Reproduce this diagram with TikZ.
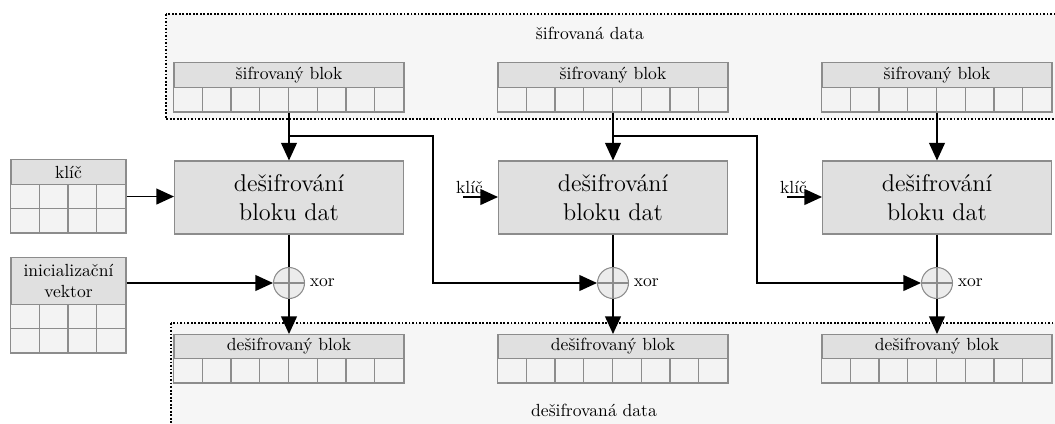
\documentclass[tikz,border=0pt]{standalone}
\usepackage{fontspec}
\usepackage{xcolor}
\usepackage{tikz}
\usetikzlibrary{arrows.meta, positioning, calc}
\definecolor{BlokHead}{RGB}{224, 224, 224}
\definecolor{BlokCell}{RGB}{243, 243, 243}
\definecolor{BlokLine}{RGB}{140, 140, 140}
\definecolor{AreaFill}{RGB}{246, 246, 246}

\tikzset{
  px/.style={x=0.02cm, y=-0.02cm},
  wire/.style={line width=0.8pt, black},
  arrow/.style={wire, -{Triangle[length=10pt, width=9pt]}},
  area/.style={draw=black, line width=0.6pt, dash pattern=on 1pt off 1pt, fill=AreaFill},
  headbox/.style={draw=BlokLine, fill=BlokHead, line width=0.6pt, inner sep=0pt, align=center},
  cellbox/.style={draw=BlokLine, fill=BlokCell, line width=0.6pt},
  decbox/.style={draw=BlokLine, fill=BlokHead, line width=0.6pt, minimum width=4.58cm,
                 minimum height=1.46cm, align=center, font=\fontsize{13.8}{16.5}\selectfont},
  xorsum/.style={circle, draw=BlokLine, fill=BlokCell!97!black, minimum size=0.62cm,
                 inner sep=0pt, line width=0.6pt},
  lbl/.style={inner sep=1pt},
}

% blok s hlavickou a radky bunek: jmeno, x stredu, horni y, sirka, vyska hlavicky, sloupce, radky, text
\newcommand{\blok}[8]{%
  \pgfmathsetmacro{\blokh}{#5+#7*24.5}
  \node[cellbox, inner sep=0pt, minimum width={#4*0.02cm}, minimum height={\blokh*0.02cm},
        anchor=north] (#1) at (#2,#3) {};
  \foreach \r in {1,...,#7}{
    \foreach \c in {1,...,#6}{
      \draw[cellbox] ($(#1.north west)+({(\c-1)*#4/#6},{#5+(\r-1)*24.5})$) rectangle ++({#4/#6},24.5);
    }
  }
  \node[headbox, minimum width={#4*0.02cm}, minimum height={#5*0.02cm}, anchor=north]
        (#1-h) at (#1.north) {#8};
}

\begin{document}
\begin{tikzpicture}[px]
  \useasboundingbox (0,0) rectangle (1055,423);

  % oblasti dat
  \path[area] (166,14) rectangle (1075,119);
  \path[area] (171,323) rectangle (1075,440);
  \node[lbl] (sifdata) at (590,33) {šifrovaná data};
  \node[lbl] (desifdata) at (594,410) {dešifrovaná data};

  % klic a inicializacni vektor
  \blok{klic}{68.5}{159}{115}{25}{4}{2}{klíč}
  \blok{iv}{68.5}{257}{115}{47}{4}{2}{inicializační\\vektor}

  \foreach \i/\cx in {1/289, 2/613, 3/937}{
    \blok{sif\i}{\cx}{62}{230}{25}{8}{1}{šifrovaný blok}
    \blok{desif\i}{\cx}{334}{230}{24}{8}{1}{dešifrovaný blok}
    \node[decbox] (dbox\i) at (\cx,197.5) {dešifrování\\bloku dat};
    \node[xorsum] (xor\i) at (\cx,283) {};
    \draw[BlokLine, line width=0.6pt] (xor\i.north) -- (xor\i.south) (xor\i.west) -- (xor\i.east);
    \node[lbl, right=1.5pt of xor\i] (xorlbl\i) {xor};
    \draw[arrow] (sif\i.south) -- (dbox\i.north);
    \draw[wire] (dbox\i.south) -- (xor\i.north);
    \draw[arrow] (xor\i.south) -- (desif\i.north);
  }

  % vstupy prvniho sloupce
  \draw[arrow] (klic.east) -- (klic.east -| dbox1.west);
  \draw[arrow] (iv.east |- xor1.west) -- (xor1.west);

  % klic do dalsich sloupcu
  \coordinate (k2) at (463,197);
  \coordinate (k3) at (787,197);
  \node[lbl, anchor=south west] (klic2) at (454,196) {klíč};
  \node[lbl, anchor=south west] (klic3) at (778,196) {klíč};
  \draw[arrow] (k2) -- (k2 -| dbox2.west);
  \draw[arrow] (k3) -- (k3 -| dbox3.west);

  % sifrovany blok do xor dalsiho sloupce
  \coordinate (ohyb1) at (433,136);
  \coordinate (ohyb2) at (757,136);
  \draw[arrow] (sif1.south |- ohyb1) -- (ohyb1) |- (xor2.west);
  \draw[arrow] (sif2.south |- ohyb2) -- (ohyb2) |- (xor3.west);
\end{tikzpicture}
\end{document}
